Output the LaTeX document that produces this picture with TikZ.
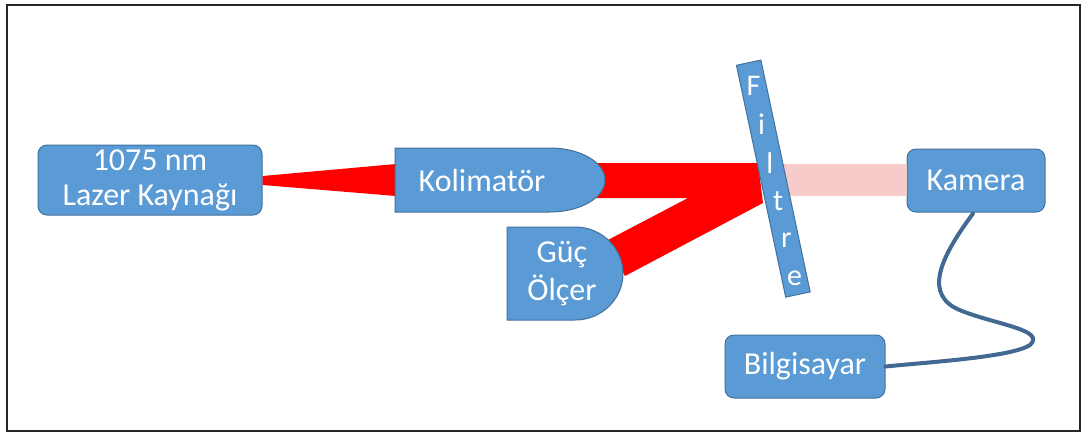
\documentclass[tikz,border=0pt]{standalone}
\usepackage{fontspec}
\setmainfont{Carlito}
\usetikzlibrary{calc}
\definecolor{boxblue}{RGB}{91,155,213}
\definecolor{boxedge}{RGB}{65,113,156}
\definecolor{beamred}{RGB}{255,0,0}
\definecolor{beampink}{RGB}{248,203,203}
\definecolor{cable}{RGB}{65,105,145}
\tikzset{
  blockbox/.style={draw=boxedge, line width=1pt, fill=boxblue, rounded corners=9pt,
    text=white, font=\fontsize{32}{36}\selectfont, align=center, inner sep=0pt},
  dshape/.style={draw=boxedge, line width=1pt, fill=boxblue},
  lbl/.style={text=white, font=\fontsize{32}{36}\selectfont, align=center, inner sep=0pt},
  filtletter/.style={text=white, font=\fontsize{30}{32}\selectfont, inner sep=0pt},
  beam/.style={fill=beamred, draw=none},
}
\begin{document}
\begin{tikzpicture}[x=1pt,y=-1pt]
\useasboundingbox (0,0) rectangle (1086,434);
\draw[line width=1.8pt, draw=black!85] (7,5) rectangle (1080,431);

% nodes (positions)
\node[blockbox, minimum width=224pt, minimum height=70pt] (laser) at (150,180) {1075 nm\\[-1pt]Lazer Kaynağı};
\node[blockbox, minimum width=138pt, minimum height=63pt] (kamera) at (976,180.5) {Kamera};
\node[blockbox, minimum width=160pt, minimum height=63pt] (pc) at (805,366.5) {Bilgisayar};

% beams (behind shapes)
\coordinate (kolW) at (396,180);
\fill[beam] ($(laser.east)+(0,-4)$) -- ($(kolW)+(0,-16)$) -- ($(kolW)+(0,16)$) -- ($(laser.east)+(0,5)$) -- cycle;
\fill[beam] (560,163) -- (758,163) -- (763,203) -- (625,276) -- (606,241) -- (688,198) -- (560,198) -- cycle;
\fill[beampink] (765,164) rectangle (kamera.west |- 0,196);

% Kolimator D-shape
\draw[dshape] (395,148) -- (550,148) arc[start angle=-90, end angle=90, x radius=55pt, y radius=-32pt] -- (395,212) -- cycle;
\node[lbl] (kolim) at (482,181) {Kolimatör};

% Guc Olcer D-shape
\draw[dshape] (507,227) -- (575,227) arc[start angle=-90, end angle=90, x radius=48pt, y radius=-46.5pt] -- (507,320) -- cycle;
\node[lbl] (guc) at (562,274) {Güç\\[2pt]Ölçer};

% Filter
\node[draw=boxedge, line width=1pt, fill=boxblue, rotate=12, minimum width=25pt, minimum height=237pt, inner sep=0pt] (filtre) at (773.3,178.6) {};
\coordinate (ftop) at (748.5,62.5);
\coordinate (fbot) at (798,294.7);
\foreach \c [count=\i from 0] in {F,i,l,t,r,e}{
  \node[filtletter] (f\i) at ($(ftop)!{0.10+0.166*\i}!(fbot)$) {\c};
}

% cable
\draw[cable, line width=4pt, line cap=round]
  ($(kamera.south)+(-3,1)$) .. controls (940,258) and (922,296) .. (962,311)
  .. controls (998,325) and (1046,330) .. (1030,345)
  .. controls (1012,357) and (930,362) .. (pc.east);
\end{tikzpicture}
\end{document}
